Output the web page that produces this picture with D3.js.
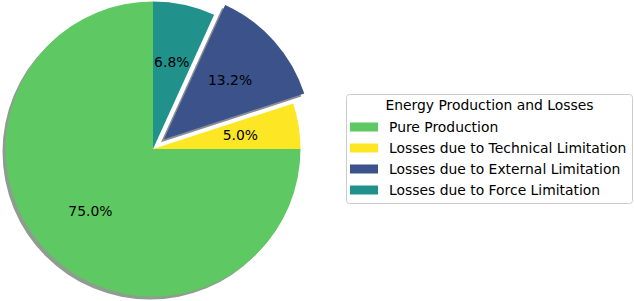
<!DOCTYPE html>
<html>
<head>
<meta charset="utf-8">
<script src="https://cdn.jsdelivr.net/npm/d3@7"></script>
<style>
  body { margin: 0; background: #fff; }
  text { font-family: "DejaVu Sans", sans-serif; }
</style>
</head>
<body>
<div id="plot"></div>
<script>
var width = 634;
var height = 301;
var FONT = "13.9px";

// Data
var labels = ["Pure Production", "Losses due to Technical Limitation", "Losses due to External Limitation", "Losses due to Force Limitation"];
var values = [75.0, 5.0, 13.2, 6.8];
var colors = ["#5ec962", "#fde725", "#3b528b", "#21918c"];
var explode = [0, 0, 0.1, 0];
var legendTitle = "Energy Production and Losses";

var cx = 153, cy = 149, radius = 147.5;
var SHADOW_X = -3, SHADOW_Y = 3;

var svg = d3.select("#plot").append("svg")
    .attr("width", width)
    .attr("height", height);

var data = values.map(function(v, i) {
    return { label: labels[i], value: v, color: colors[i], explode: explode[i] };
});

// counterclockwise from 12 o'clock, like matplotlib startangle=90
var pie = d3.pie()
    .sort(null)
    .startAngle(0)
    .endAngle(-2 * Math.PI)
    .value(function(d) { return d.value; });

var arcs = pie(data);

var path = d3.arc().innerRadius(0).outerRadius(radius);
var labelArc = d3.arc().innerRadius(radius * 0.6).outerRadius(radius * 0.6);

function offset(d) {
    var mid = (d.startAngle + d.endAngle) / 2;
    var r = d.data.explode * radius;
    return [r * Math.sin(mid), -r * Math.cos(mid)];
}

function shadowColor(c) {
    var col = d3.color(c);
    var k = 0.3, a = 0.5;
    return d3.rgb(
        255 * (1 - a) + col.r * k * a,
        255 * (1 - a) + col.g * k * a,
        255 * (1 - a) + col.b * k * a
    ).toString();
}

var g = svg.append("g").attr("transform", translate(cx, cy));

// Shadows
g.selectAll("path.shadow")
    .data(arcs)
    .enter().append("path")
    .attr("class", "shadow")
    .attr("d", path)
    .attr("transform", function(d) {
        var o = offset(d);
        return translate(o[0] + SHADOW_X, o[1] + SHADOW_Y);
    })
    .attr("fill", function(d) { return shadowColor(d.data.color); });

// Wedges
g.selectAll("path.wedge")
    .data(arcs)
    .enter().append("path")
    .attr("class", "wedge")
    .attr("d", path)
    .attr("transform", function(d) {
        var o = offset(d);
        return translate(o[0], o[1]);
    })
    .attr("fill", function(d) { return d.data.color; });

// Percent labels
g.selectAll("text.pct")
    .data(arcs)
    .enter().append("text")
    .attr("class", "pct")
    .attr("transform", function(d) {
        var c = labelArc.centroid(d);
        var o = offset(d);
        return translate(c[0] + o[0], c[1] + o[1]);
    })
    .attr("text-anchor", "middle")
    .attr("dy", "0.35em")
    .style("font-size", FONT)
    .attr("fill", "#000")
    .text(function(d) { return d.data.value.toFixed(1) + "%"; });

// Legend
var legend = svg.append("g").attr("transform", translate(346, 94));
var legW = 286, legH = 109;

legend.append("rect")
    .attr("x", 0.5).attr("y", 0.5)
    .attr("width", legW).attr("height", legH)
    .attr("rx", 3).attr("ry", 3)
    .attr("fill", "#fff")
    .attr("stroke", "#cccccc");

legend.append("text")
    .attr("x", legW / 2 + 0.5)
    .attr("y", 11)
    .attr("dy", "0.35em")
    .attr("text-anchor", "middle")
    .style("font-size", FONT)
    .text(legendTitle);

var rows = legend.selectAll("g.row")
    .data(data)
    .enter().append("g")
    .attr("class", "row")
    .attr("transform", function(d, i) { return translate(4, 33 + i * 21); });

rows.append("rect")
    .attr("x", 0).attr("y", -4.5)
    .attr("width", 28).attr("height", 9)
    .attr("fill", function(d) { return d.color; });

rows.append("text")
    .attr("x", 39)
    .attr("y", 0)
    .attr("dy", "0.35em")
    .style("font-size", FONT)
    .text(function(d) { return d.label; });

function translate(x, y) {
    return "translate(" + x + "," + y + ")";
}
</script>
</body>
</html>
